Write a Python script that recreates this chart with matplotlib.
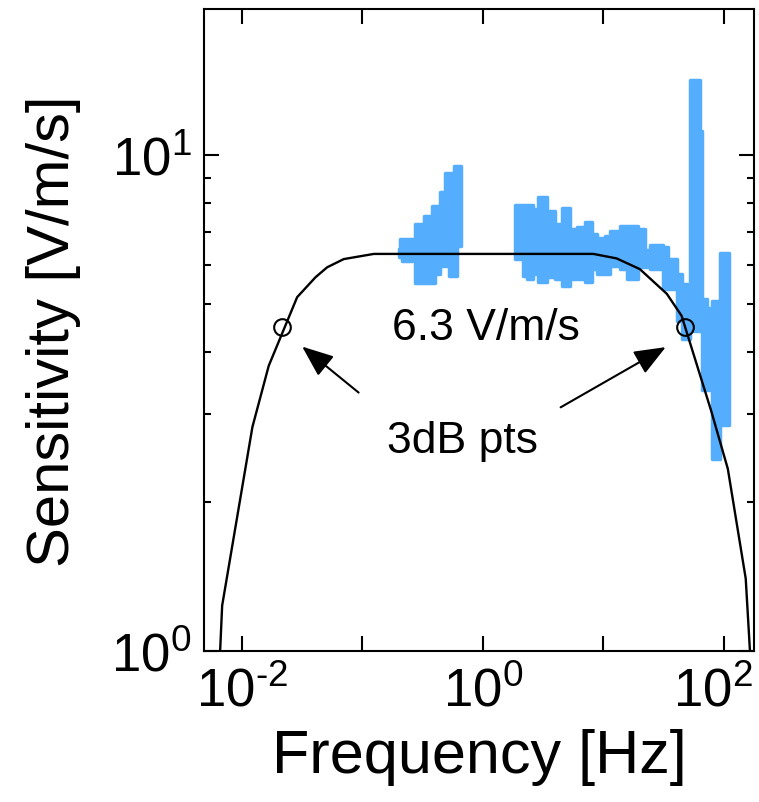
import numpy as np
import matplotlib.pyplot as plt
from matplotlib.ticker import FixedLocator, LogLocator, NullFormatter
from matplotlib.transforms import ScaledTranslation

plt.rcParams['font.family'] = ['Liberation Sans']
plt.rcParams['mathtext.fontset'] = 'custom'
plt.rcParams['mathtext.rm'] = 'Liberation Sans'
plt.rcParams['mathtext.it'] = 'Liberation Sans:italic'
plt.rcParams['mathtext.bf'] = 'Liberation Sans:bold'

# modelled sensitivity curve (Hz, V/m/s)
model_f = [0.0066, 0.0069, 0.0123, 0.0168, 0.0289, 0.041, 0.0513, 0.0704, 0.125,
           8.28, 12.9, 20.1, 33.7, 44.7, 78.9, 108, 152, 166]
model_s = [0.97, 1.235, 2.83, 3.76, 5.17, 5.67, 5.94, 6.17, 6.32,
           6.32, 6.19, 5.89, 5.25, 4.74, 3.04, 2.33, 1.40, 0.97]

# 3 dB points
db3_f = [0.0215, 47.5]
db3_s = [4.5, 4.5]

# measured band, low frequency part (upper / lower edge of the trace)
meas1_f = [0.201, 0.2075, 0.214, 0.2597, 0.276, 0.3236, 0.379, 0.4045, 0.4446,
           0.4887, 0.521, 0.573, 0.611, 0.664]
meas1_hi = [6.46, 6.77, 6.77, 6.77, 7.26, 7.53, 7.89, 7.89, 8.42,
            9.20, 9.20, 9.50, 9.50, 9.50]
meas1_lo = [6.23, 6.23, 6.11, 6.37, 5.52, 5.52, 5.52, 5.76, 5.97,
            5.97, 5.70, 5.70, 6.55, 6.55]

# measured band, high frequency part
meas2_f = [1.86, 2.16, 2.34, 2.62, 2.88, 3.42, 3.98, 4.55, 5.31, 6.06, 7.06, 8.07,
           8.88, 10.35, 11.4, 13.8, 15.7, 19.4, 22.2, 24.4, 31.3, 34.4, 40.8, 44.9,
           52.2, 63.2, 65.7, 72.3, 79.6, 92.7, 110]
meas2_hi = [7.93, 7.93, 7.93, 7.78, 8.23, 7.71, 7.26, 7.82, 7.09, 7.16, 7.33, 6.93,
            6.80, 6.87, 7.03, 7.19, 7.19, 7.09, 6.44, 6.59, 6.52, 6.17, 5.76, 5.49,
            14.2, 11.2, 5.13, 4.92, 5.08, 6.35, 6.35]
meas2_lo = [6.17, 5.70, 5.62, 5.76, 5.55, 5.68, 5.62, 5.44, 5.62, 5.62, 5.55, 5.89,
            5.76, 5.76, 5.97, 5.89, 5.62, 5.95, 5.95, 5.89, 5.37, 5.37, 4.63, 4.26,
            4.42, 4.42, 3.36, 3.36, 2.44, 2.86, 2.86]

xticks = [1e-2, 1e-1, 1e0, 1e1, 1e2]
xticklabels = [r'$10^{\text{-}2}$', '', '$10^{0}$', '', '$10^{2}$']
yticks = [1e0, 1e1]
yticklabels = ['$10^{0}$', '$10^{1}$']

blue = '#55AEFD'

fig = plt.figure(figsize=(7.59, 8.03), dpi=100)
ax = fig.add_axes([0.2688, 0.188, 0.7246, 0.7995])

for f, hi, lo in [(meas1_f, meas1_hi, meas1_lo), (meas2_f, meas2_hi, meas2_lo)]:
    ax.fill_between(f, lo, hi, step='post', color=blue, lw=2.5, zorder=1)

ax.plot(model_f, model_s, color='black', lw=1.7, zorder=3)
ax.plot(db3_f, db3_s, 'o', ms=12, mfc='none', mec='black', mew=1.5, zorder=4)

ax.text(1.07, 4.5, '6.3 V/m/s', fontsize=32, ha='center', va='center')
ax.text(0.676, 2.66, '3dB pts', fontsize=32, ha='center', va='center')

arrow = dict(arrowstyle='-|>,head_length=0.97,head_width=0.39', mutation_scale=20,
             lw=1.5, color='black', shrinkA=0, shrinkB=0)
ax.annotate('', xy=(0.0318, 4.11), xytext=(0.0935, 3.32), arrowprops=arrow)
ax.annotate('', xy=(33.0, 4.10), xytext=(4.43, 3.10), arrowprops=arrow)

ax.set_xscale('log')
ax.set_yscale('log')
ax.set_xlim(0.00488, 178)
ax.set_ylim(1.0, 19.7)

ax.xaxis.set_major_locator(FixedLocator(xticks))
ax.set_xticklabels(xticklabels)
ax.xaxis.set_minor_locator(LogLocator(base=10, subs=np.arange(2, 10)))
ax.xaxis.set_minor_formatter(NullFormatter())
ax.yaxis.set_major_locator(FixedLocator(yticks))
ax.set_yticklabels(yticklabels)
ax.yaxis.set_minor_locator(LogLocator(base=10, subs=np.arange(2, 10)))
ax.yaxis.set_minor_formatter(NullFormatter())

ax.tick_params(which='both', direction='in', top=True, right=True, width=1.5,
               labelsize=38)
ax.tick_params(which='major', length=10.8)
ax.tick_params(which='minor', length=5)
ax.tick_params(axis='x', pad=11)
ax.tick_params(axis='y', pad=9)
for s in ax.spines.values():
    s.set_linewidth(1.5)

# keep the last x label inside the canvas
last = ax.get_xticklabels()[-1]
last.set_transform(last.get_transform() + ScaledTranslation(-8 / 72, 0, fig.dpi_scale_trans))

ax.set_xlabel('Frequency [Hz]', fontsize=44, labelpad=8)
ax.set_ylabel('Sensitivity [V/m/s]', fontsize=43, labelpad=22)

fig.savefig('out.png', dpi=100)
